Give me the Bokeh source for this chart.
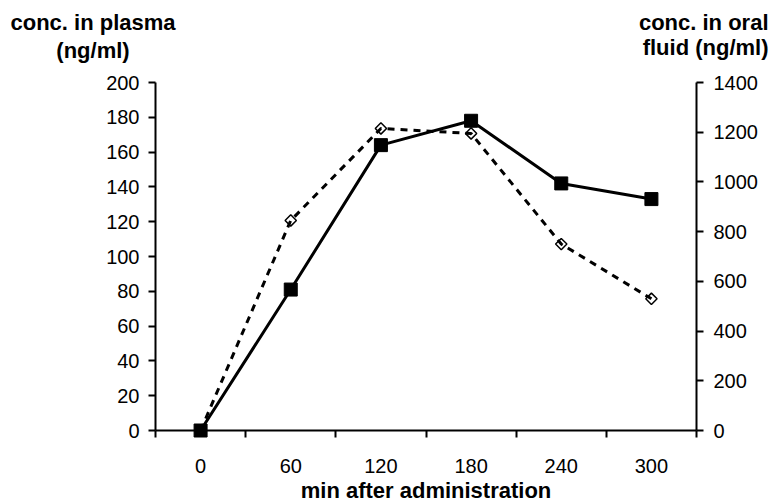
from bokeh.plotting import figure
from bokeh.models import Range1d, LinearAxis, FixedTicker, Label
from bokeh.embed import file_html
from bokeh.resources import INLINE
import math

# ---- data ----
minutes = [0, 60, 120, 180, 240, 300]
plasma = [0, 81, 164, 178, 142, 133]            # ng/ml, left axis
oral_fluid = [0, 845, 1215, 1195, 750, 530]     # ng/ml, right axis
left_ticks = [0, 20, 40, 60, 80, 100, 120, 140, 160, 180, 200]
right_ticks = [0, 200, 400, 600, 800, 1000, 1200, 1400]
x_minor = [-30, 30, 90, 150, 210, 270, 330]

FONT = "Liberation Sans"
W, H = 774, 504
# desired plot-area edges in canvas pixels
FL, FR, FT, FB = 155, 696, 82, 430
X0, X1 = -30, 330          # x extent of the axes
Y0, Y1 = 0, 200            # left axis extent
R0, R1 = 0, 1400           # right axis extent

sx = (X1 - X0) / (FR - FL)
sy = (Y1 - Y0) / (FB - FT)
sr = (R1 - R0) / (FB - FT)

x_range = Range1d(X0 - FL * sx, X0 + (W - FL) * sx)
y_range = Range1d(Y0 - (H - FB) * sy, Y0 + FB * sy)
r_range = Range1d(R0 - (H - FB) * sr, R0 + FB * sr)

p = figure(width=W, height=H, x_range=x_range, y_range=y_range, title=None,
           output_backend="svg", toolbar_location=None, min_border=0,
           x_axis_location=None, y_axis_location=None)
p.extra_y_ranges = {"right": r_range}
p.outline_line_color = None
p.background_fill_color = "white"
p.border_fill_color = "white"
p.xgrid.grid_line_color = None
p.ygrid.grid_line_color = None
p.grid.visible = False

TICK_FS = "20px"
TITLE_FS = "22px"


def style_axis(ax, standoff):
    ax.axis_line_width = 2
    ax.axis_line_color = "black"
    ax.major_tick_in = 0
    ax.major_tick_out = 7
    ax.major_tick_line_width = 2
    ax.major_tick_line_color = "black"
    ax.minor_tick_line_color = None
    ax.major_label_standoff = standoff
    ax.major_label_text_font = FONT
    ax.major_label_text_font_size = TICK_FS
    ax.major_label_text_color = "black"


# x axis
xa = LinearAxis(ticker=FixedTicker(ticks=minutes, minor_ticks=x_minor),
                fixed_location=Y0, bounds=(X0, X1))
style_axis(xa, 21)
xa.major_tick_out = 0
xa.minor_tick_out = 7
xa.minor_tick_in = 0
xa.minor_tick_line_color = "black"
xa.minor_tick_line_width = 2
p.add_layout(xa, "below")

# left axis
ya = LinearAxis(ticker=FixedTicker(ticks=left_ticks), fixed_location=X0, bounds=(Y0, Y1))
style_axis(ya, 9)
p.add_layout(ya, "left")

# right axis
ra = LinearAxis(y_range_name="right", ticker=FixedTicker(ticks=right_ticks),
                fixed_location=X1, bounds=(R0, R1))
style_axis(ra, 10)
p.add_layout(ra, "right")

# series
p.scatter(minutes, oral_fluid, y_range_name="right", marker="square", size=8,
          angle=math.pi / 4, fill_color="white", line_color="black", line_width=1.5)
p.line(minutes, oral_fluid, y_range_name="right", line_color="black",
       line_width=3, line_dash="7 6")
p.line(minutes, plasma, line_color="black", line_width=3)
p.scatter(minutes, plasma, marker="square", size=13, fill_color="black", line_color="black")


def add_label(text, cx, cy, align):
    p.add_layout(Label(x=X0 + (cx - FL) * sx, y=Y0 + (FB - cy) * sy,
                       text=text, text_align=align, text_baseline="middle",
                       text_font=FONT, text_font_size=TITLE_FS, text_font_style="bold",
                       text_color="black"))


add_label("conc. in plasma", 92.5, 22, "center")
add_label("(ng/ml)", 92.5, 50, "center")
add_label("conc. in oral", 768, 22, "right")
add_label("fluid (ng/ml)", 768, 47, "right")
add_label("min after administration", (FL + FR) / 2, 490, "center")

open("out.html", "w").write(file_html(p, INLINE))
